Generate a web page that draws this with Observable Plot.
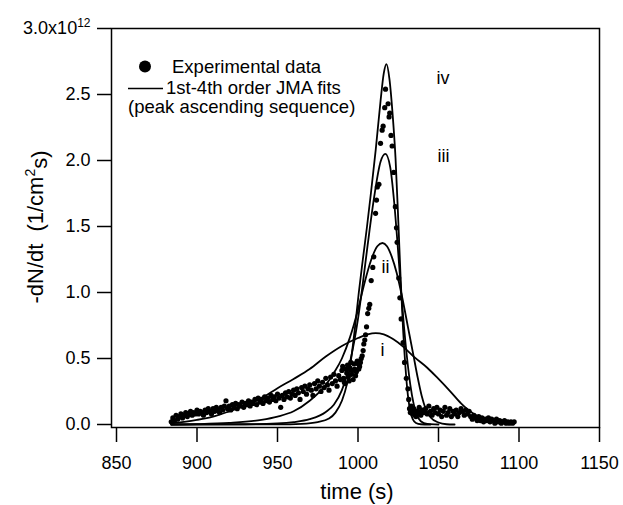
<!DOCTYPE html>
<html>
<head>
<meta charset="utf-8">
<script src="https://cdn.jsdelivr.net/npm/d3@7"></script>
<script src="https://cdn.jsdelivr.net/npm/@observablehq/plot@0.6"></script>
<style>
  html, body { margin: 0; padding: 0; background: #fff; }
  #chart { position: relative; width: 623px; height: 505px; }
  svg { font-family: "Liberation Sans", Arial, Helvetica, sans-serif; }
</style>
</head>
<body>
<div id="chart"></div>
<script>
// ---- tick values ----
const xTicks = [850, 900, 950, 1000, 1050, 1100, 1150];
const yTicks = [0, 0.5, 1.0, 1.5, 2.0, 2.5, 3.0];

// ---- experimental data: [time (s), -dN/dt (1e12 / cm^2 s)] ----
const expData = [
  [884,0.02],[885,0.05],[886,0.03],[887,0.07],[888,0.04],[889,0.06],[890,0.08],[891,0.05],[892,0.07],[893,0.09],
  [894,0.06],[895,0.08],[896,0.10],[897,0.07],[898,0.09],[899,0.08],[900,0.11],[901,0.08],[902,0.10],[903,0.09],
  [904,0.07],[905,0.11],[906,0.09],[907,0.12],[908,0.10],[909,0.08],[910,0.12],[911,0.10],[912,0.13],[913,0.11],
  [914,0.09],[915,0.13],[916,0.11],[917,0.14],[918,0.18],[919,0.12],[920,0.14],[921,0.11],[922,0.15],[923,0.13],
  [924,0.16],[925,0.12],[926,0.15],[927,0.14],[928,0.17],[929,0.13],[930,0.16],[931,0.15],[932,0.18],[933,0.14],
  [934,0.17],[935,0.16],[936,0.19],[937,0.15],[938,0.20],[939,0.17],[940,0.19],[941,0.16],[942,0.21],[943,0.18],
  [944,0.20],[945,0.17],[946,0.22],[947,0.19],[948,0.21],[949,0.18],[950,0.23],[951,0.20],[952,0.13],[953,0.22],
  [954,0.19],[955,0.24],[956,0.21],[957,0.25],[958,0.20],[959,0.23],[960,0.26],[961,0.22],[962,0.27],[963,0.24],
  [964,0.19],[965,0.28],[966,0.25],[967,0.29],[968,0.23],[969,0.27],[970,0.30],[971,0.26],[972,0.22],[973,0.31],
  [974,0.27],[975,0.33],[976,0.29],[977,0.25],[978,0.32],[979,0.28],[980,0.35],[981,0.30],[982,0.26],[983,0.36],
  [984,0.31],[985,0.38],[986,0.33],[987,0.29],[988,0.37],[989,0.34],[990,0.41],[990.5,0.44],[991,0.35],[991.5,0.32],
  [992,0.31],[992.5,0.42],[993,0.39],[993.5,0.45],[994,0.36],[994.5,0.33],[995,0.43],[995.5,0.47],[996,0.38],[996.5,0.41],
  [997,0.34],[997.5,0.46],[998,0.42],[998.5,0.37],[999,0.40],[999.5,0.48],[1000,0.46],[1000.5,0.42],[1001,0.44],[1001.5,0.47],
  [1002,0.50],[1002.6,0.52],[1003.2,0.56],[1003.6,0.61],[1004.2,0.64],[1004.7,0.68],[1005.3,0.74],[1006,0.84],[1006.7,0.88],[1007.3,0.91],
  [1008.2,1.09],[1009.2,1.19],[1009.8,1.27],[1010.9,1.60],[1011.5,1.70],[1012,1.80],[1013,1.82],[1014,2.13],[1015,2.23],[1015.6,2.26],
  [1016.6,2.40],[1017.1,2.54],[1018.7,2.43],[1019.3,2.33],[1019.7,2.36],[1020.5,2.19],[1021.2,2.11],[1022.2,1.91],[1023.2,1.65],[1023.9,1.49],
  [1024.3,1.38],[1025.3,1.11],[1026,0.96],[1026.8,0.80],[1028,0.62],[1028.9,0.47],[1030,0.35],[1031,0.27],[1031.5,0.19],[1032,0.12],
  [1032.5,0.09],[1033,0.14],[1033.5,0.10],[1034,0.08],[1034.5,0.12],[1035,0.11],[1035.5,0.07],[1036,0.06],[1036.5,0.10],[1037,0.10],
  [1037.5,0.08],[1038,0.13],[1038.5,0.09],[1039,0.07],[1040,0.11],[1041,0.09],[1042,0.12],[1043,0.08],[1044,0.14],[1045,0.10],
  [1046,0.07],[1047,0.12],[1048,0.09],[1049,0.13],[1050,0.08],[1051,0.11],[1052,0.06],[1053,0.10],[1054,0.13],[1055,0.07],
  [1056,0.09],[1057,0.12],[1058,0.06],[1059,0.10],[1060,0.08],[1061,0.11],[1062,0.06],[1063,0.09],[1064,0.12],[1065,0.10],
  [1066,0.07],[1067,0.11],[1068,0.08],[1069,0.10],[1070,0.06],[1071,0.04],[1072,0.07],[1073,0.05],[1074,0.03],[1075,0.06],
  [1076,0.03],[1077,0.05],[1078,0.02],[1079,0.04],[1080,0.03],[1081,0.05],[1082,0.02],[1083,0.04],[1084,0.03],[1085,0.01],
  [1086,0.04],[1087,0.02],[1088,0.03],[1089,0.01],[1090,0.02],[1091,0.03],[1092,0.01],[1093,0.02],[1094,0.01],[1095,0.02],
  [1096,0.01],[1097,0.02]
];

// ---- JMA fits (1st to 4th order) ----
const fit1 = [[884,0.008],[892,0.02],[900,0.035],[910,0.06],[920,0.10],[930,0.145],[940,0.20],[950,0.275],[960,0.345],
  [970,0.42],[980,0.515],[990,0.595],[1000,0.655],[1006,0.683],[1011,0.692],[1016,0.683],[1022,0.645],[1028,0.59],
  [1035,0.51],[1043,0.43],[1050,0.345],[1057,0.255],[1064,0.16],[1068,0.115],[1072,0.08],[1078,0.045],[1084,0.025],
  [1090,0.012],[1096,0.005]];
const fit2 = [[884,0.0],[900,0.003],[920,0.012],[940,0.035],[950,0.06],[960,0.10],[970,0.18],[980,0.30],[985,0.39],
  [990,0.50],[995,0.66],[1000,0.87],[1004,1.07],[1008,1.24],[1012,1.35],[1015.2,1.375],[1018,1.35],[1021,1.27],
  [1024,1.15],[1027.5,0.96],[1031,0.74],[1034.5,0.52],[1037,0.36],[1039.5,0.22],[1042,0.12],[1045,0.055],[1050,0.015],
  [1055,0.002],[1060,0]];
const fit3 = [[884,0],[930,0.002],[950,0.008],[960,0.018],[970,0.04],[980,0.095],[985,0.15],[990,0.26],[995,0.47],
  [1000,0.80],[1003,1.07],[1006,1.36],[1010,1.72],[1014,1.99],[1017,2.05],[1020,1.95],[1022.5,1.68],[1024.5,1.38],
  [1026.5,1.05],[1028.5,0.75],[1030.5,0.50],[1032.5,0.30],[1034.5,0.16],[1036.5,0.075],[1039,0.025],[1043,0.004],[1050,0]];
const fit4 = [[884,0],[950,0.001],[965,0.005],[975,0.018],[982,0.045],[986,0.09],[990,0.18],[993,0.30],[996,0.52],
  [998,0.72],[1000.5,1.0],[1003,1.25],[1005.6,1.5],[1008,1.75],[1011,2.08],[1014,2.45],[1016,2.66],[1017.7,2.73],
  [1019.5,2.62],[1021.5,2.35],[1023.3,2.02],[1025,1.55],[1026.5,1.1],[1028,0.72],[1029.5,0.43],[1031,0.22],[1032.5,0.1],
  [1034,0.04],[1036,0.012],[1039,0.002],[1045,0]];
const fitSeries = ["i", "ii", "iii", "iv"];

// ---- curve labels ----
const curveLabels = ["iv", "iii", "ii", "i"];
const curveLabelTime = [1048.8, 1049.4, 1014.6, 1014];
const curveLabelRate = [2.62, 2.036, 1.188, 0.559];

// ---- legend texts ----
const legendTexts = ["Experimental data", "1st-4th order JMA fits", "(peak ascending sequence)"];

const fits = [fit1, fit2, fit3, fit4].flatMap((arr, k) => arr.map(([t, v]) => ({t, v, s: fitSeries[k]})));
const pts = expData.map(([t, v]) => ({t, v}));
const labelRows = curveLabels.map((l, i) => ({l, t: curveLabelTime[i], v: curveLabelRate[i]}));

const chart = Plot.plot({
  width: 623,
  height: 505,
  marginLeft: 111,
  marginRight: 24,
  marginTop: 28,
  marginBottom: 78,
  style: {fontFamily: '"Liberation Sans", Arial, Helvetica, sans-serif', color: "black", background: "white"},
  x: {domain: [850, 1150], range: [116, 599]},
  y: {domain: [0, 3], range: [424, 28]},
  marks: [
    Plot.axisX({ticks: xTicks, tickSize: 15, tickPadding: 14, fontSize: 18, label: null, strokeWidth: 1.5, tickFormat: d => String(d)}),
    Plot.axisY({ticks: yTicks, tickSize: 14, tickPadding: 7, fontSize: 18, label: null, strokeWidth: 1.5,
      tickFormat: d => d === 3 ? "3.0x10¹²" : d.toFixed(1)}),
    Plot.line(fits, {x: "t", y: "v", z: "s", stroke: "black", strokeWidth: 1.8, curve: "monotone-x"}),
    Plot.dot(pts, {x: "t", y: "v", r: 2.6, fill: "black", stroke: "none"}),
    Plot.text(labelRows, {x: "t", y: "v", text: "l", textAnchor: "start", fontSize: 18, fill: "black"}),
    Plot.frame({stroke: "black", strokeWidth: 1.5})
  ]
});

document.getElementById("chart").appendChild(chart);

const svg = d3.select(chart);
// superscript on the top tick label
svg.selectAll("text").each(function () {
  const t = d3.select(this);
  if (this.textContent === "3.0x10¹²") {
    const tsp = t.select("tspan").empty() ? t : t.select("tspan");
    tsp.text(null);
    tsp.append("tspan").text("3.0x10");
    tsp.append("tspan").attr("dy", "-0.62em").attr("font-size", 12).text("12");
  }
});

// legend
const lg = svg.append("g").attr("font-size", 18.5).attr("fill", "black").attr("text-anchor", "start");
lg.append("circle").attr("cx", 145).attr("cy", 66.5).attr("r", 6).attr("fill", "black");
lg.append("text").attr("x", 172).attr("y", 72.5).text(legendTexts[0]);
lg.append("line").attr("x1", 128).attr("x2", 163).attr("y1", 88.5).attr("y2", 88.5).attr("stroke", "black").attr("stroke-width", 1.5);
lg.append("text").attr("x", 166).attr("y", 94).text(legendTexts[1]);
lg.append("text").attr("x", 128).attr("y", 112.5).text(legendTexts[2]);

// axis titles
svg.append("text").attr("x", 357).attr("y", 499).attr("text-anchor", "middle").attr("font-size", 22).attr("fill", "black").text("time (s)");
const yl = svg.append("text").attr("transform", "translate(43,227) rotate(-90)").attr("text-anchor", "middle")
  .attr("font-size", 22).attr("fill", "black");
yl.append("tspan").text("-dN/dt");
yl.append("tspan").attr("dx", 12).text("(1/cm");
yl.append("tspan").attr("dy", "-0.55em").attr("font-size", 14).text("2");
yl.append("tspan").attr("dy", "0.55em").text("s)");
</script>
</body>
</html>
